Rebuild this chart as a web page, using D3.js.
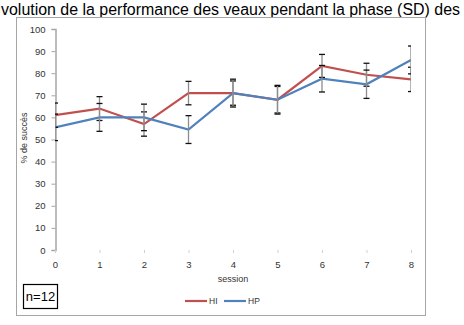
<!DOCTYPE html>
<html>
<head>
<meta charset="utf-8">
<script src="https://cdn.jsdelivr.net/npm/d3@7"></script>
<style>
  body { margin: 0; background: #fff; }
  svg { display: block; font-family: "Liberation Sans", Arial, sans-serif; }
</style>
</head>
<body>
<div id="chart-area"></div>
<script>
const sessions = [0, 1, 2, 3, 4, 5, 6, 7, 8];
const hiValues = [61, 64, 57, 71, 71, 68, 83.3, 79.3, 77.2];
const hiErrors = [5.5, 5.4, 5.5, 5.3, 5.5, 6, 5.2, 5.2, 5.5];
const hpValues = [55.5, 60, 60, 54.5, 71, 68, 77.5, 75, 86];
const hpErrors = [6, 6.3, 6, 6.3, 6.3, 6.5, 6, 6.4, 6.3];
const yTicks = [0, 10, 20, 30, 40, 50, 60, 70, 80, 90, 100];
const seriesNames = ["HI", "HP"];

const series = [
  { name: seriesNames[0], values: hiValues, errors: hiErrors, color: "#C0504D" },
  { name: seriesNames[1], values: hpValues, errors: hpErrors, color: "#4F81BD" }
];

const svgWidth = 464;
const svgHeight = 325;

const svg = d3.select("#chart-area")
              .append("svg")
              .attr("width", svgWidth)
              .attr("height", svgHeight);

// title (the original image starts mid-word)
svg.append("text")
   .attr("x", 1)
   .attr("y", 15)
   .attr("font-size", 16)
   .attr("textLength", 459)
   .attr("lengthAdjust", "spacingAndGlyphs")
   .attr("fill", "#000")
   .text("volution de la performance des veaux pendant la phase (SD) des");

// chart frame
svg.append("rect")
   .attr("x", 16.5)
   .attr("y", 17.5)
   .attr("width", 409)
   .attr("height", 298)
   .attr("fill", "none")
   .attr("stroke", "#a6a6a6");

const x = d3.scaleLinear().domain([0, 8]).range([55, 411]);
const y = d3.scaleLinear().domain([0, 100]).range([250, 29]);

svg.append("defs").append("clipPath")
   .attr("id", "plot-clip")
   .append("rect")
   .attr("x", 55).attr("y", 20)
   .attr("width", 356).attr("height", 240);

// y axis
const yAxis = svg.append("g")
   .attr("transform", "translate(55.5,0)")
   .call(d3.axisLeft(y).tickValues(yTicks).tickSize(4).tickPadding(6));
yAxis.select(".domain").attr("stroke", "#a6a6a6").attr("stroke-width", 1.5);
yAxis.selectAll(".tick line").attr("stroke", "#a6a6a6");
yAxis.selectAll(".tick text").attr("font-size", 9.5).attr("fill", "#333");

// x axis (no visible baseline)
const xAxis = svg.append("g")
   .attr("transform", "translate(0,250)")
   .call(d3.axisBottom(x).tickValues(sessions).tickSize(3).tickPadding(8));
xAxis.select(".domain").remove();
xAxis.selectAll(".tick line").attr("stroke", "#d0d0d0");
xAxis.selectAll(".tick text").attr("font-size", 9.5).attr("fill", "#333");

svg.append("text")
   .attr("x", 233)
   .attr("y", 282)
   .attr("text-anchor", "middle")
   .attr("font-size", 9)
   .attr("fill", "#333")
   .text("session");

svg.append("text")
   .attr("transform", "translate(27,138) rotate(-90)")
   .attr("text-anchor", "middle")
   .attr("font-size", 9)
   .attr("fill", "#333")
   .text("% de succès");

const line = d3.line()
   .x((d, i) => x(sessions[i]))
   .y(d => y(d));

const plot = svg.append("g").attr("clip-path", "url(#plot-clip)");

// lines
series.forEach(s => {
  plot.append("path")
      .datum(s.values)
      .attr("fill", "none")
      .attr("stroke", s.color)
      .attr("stroke-width", 2.2)
      .attr("d", line);
});

// error bars
series.forEach(s => {
  const g = plot.append("g");
  s.values.forEach((v, i) => {
    const cx = x(sessions[i]);
    const top = y(v + s.errors[i]);
    const bot = y(v - s.errors[i]);
    g.append("line")
     .attr("x1", cx).attr("x2", cx)
     .attr("y1", top).attr("y2", bot)
     .attr("stroke", "#8c8c8c")
     .attr("stroke-width", 1.3);
    [top, bot].forEach(yy => {
      g.append("line")
       .attr("x1", cx - 3).attr("x2", cx + 3)
       .attr("y1", yy).attr("y2", yy)
       .attr("stroke", "#111")
       .attr("stroke-width", 1.3);
    });
  });
});

// legend
const legend = svg.append("g");
series.forEach((s, i) => {
  const lx = 185 + i * 39;
  legend.append("line")
        .attr("x1", lx).attr("x2", lx + 22)
        .attr("y1", 301).attr("y2", 301)
        .attr("stroke", s.color)
        .attr("stroke-width", 2.2);
  legend.append("text")
        .attr("x", lx + 24)
        .attr("y", 304)
        .attr("font-size", 8.5)
        .attr("fill", "#333")
        .text(s.name);
});

// n=12 box
svg.append("rect")
   .attr("x", 23.5).attr("y", 284.5)
   .attr("width", 34).attr("height", 24)
   .attr("fill", "#fff")
   .attr("stroke", "#000")
   .attr("stroke-width", 1.2);
svg.append("text")
   .attr("x", 40.5)
   .attr("y", 301)
   .attr("text-anchor", "middle")
   .attr("font-size", 13)
   .attr("fill", "#000")
   .text("n=12");
</script>
</body>
</html>
